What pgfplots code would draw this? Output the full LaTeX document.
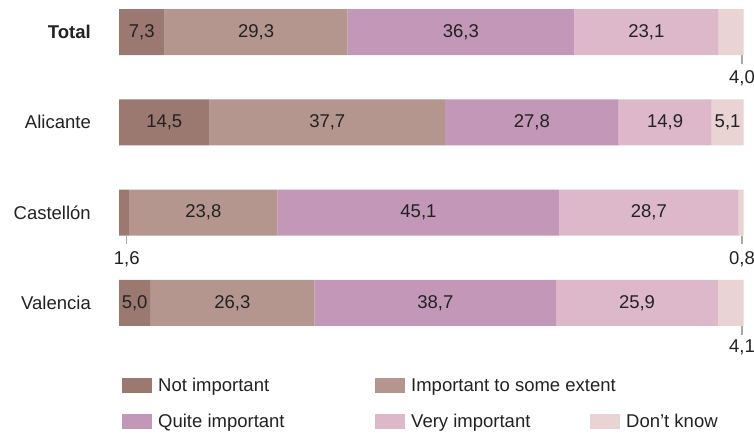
\documentclass[border=0pt]{standalone}
\usepackage{fontspec}
\setmainfont{Liberation Sans}
\usepackage{pgfplots}
\usepackage{pgfplotstable}
\pgfplotsset{compat=1.18}

\definecolor{cNI}{HTML}{9B7870}
\definecolor{cISE}{HTML}{B4968F}
\definecolor{cQI}{HTML}{C297B8}
\definecolor{cVI}{HTML}{DDB8CB}
\definecolor{cDK}{HTML}{E9D3D3}
\definecolor{txt}{HTML}{222222}
\definecolor{tickgray}{HTML}{A8A8A8}

% c: row (0 = Total), v: share in %, lab: label inside the bar
\pgfplotstableread{
c v lab
0 7.3 7,3
1 14.5 14,5
2 1.6 {}
3 5.0 5,0
}\notimp
\pgfplotstableread{
c v lab
0 29.3 29,3
1 37.7 37,7
2 23.8 23,8
3 26.3 26,3
}\someext
\pgfplotstableread{
c v lab
0 36.3 36,3
1 27.8 27,8
2 45.1 45,1
3 38.7 38,7
}\quite
\pgfplotstableread{
c v lab
0 23.1 23,1
1 14.9 14,9
2 28.7 28,7
3 25.9 25,9
}\very
\pgfplotstableread{
c v lab
0 4.0 {}
1 5.1 5,1
2 0.8 {}
3 4.1 {}
}\dontknow

\newcommand{\fs}{\fontsize{18.5bp}{22bp}\selectfont}

\begin{document}
\begin{tikzpicture}[font=\fs, text=txt]
\useasboundingbox (0,0) rectangle (754bp,-438bp);
\begin{axis}[
    at={(119bp,-0.4bp)}, anchor=north west,
    scale only axis,
    width=624.5bp, height=334.1bp,
    xmin=0, xmax=100,
    ymin=-0.35, ymax=3.35,
    y dir=reverse,
    clip=false,
    xbar stacked,
    bar width=46bp,
    axis line style={draw=none},
    tick style={draw=none},
    xtick=\empty,
    ytick={0,1,2,3},
    yticklabels={\textbf{Total},Alicante,Castellón,Valencia},
    yticklabel style={font=\fs, text=txt, anchor=east, inner sep=0pt, xshift=-28bp},
    point meta=explicit symbolic,
    nodes near coords,
    every node near coord/.append style={font=\fs, text=txt, anchor=center},
    legend columns=3,
    legend cell align=left,
    legend image code/.code={\fill[#1] (0bp,-6bp) rectangle (30bp,9bp);},
    legend style={at={(axis description cs:0,0)}, anchor=north west,
        xshift=0bp, yshift=-41.2bp, draw=none, fill=none,
        nodes={inner sep=0pt, text height=14bp, text depth=4bp, font=\fs, text=txt},
        /tikz/every odd column/.append style={column sep=6bp},
        /tikz/row sep=18bp},
]
\addplot[fill=cNI, draw=none] table[x=v, y=c, meta=lab] {\notimp};
\addlegendentry{\makebox[217bp][l]{Not important}}
\addplot[fill=cISE, draw=none] table[x=v, y=c, meta=lab] {\someext};
\addlegendentry{\makebox[179bp][l]{Important to some extent}}
\addlegendimage{empty legend}
\addlegendentry{}
\addplot[fill=cQI, draw=none] table[x=v, y=c, meta=lab] {\quite};
\addlegendentry{\makebox[217bp][l]{Quite important}}
\addplot[fill=cVI, draw=none] table[x=v, y=c, meta=lab] {\very};
\addlegendentry{\makebox[179bp][l]{Very important}}
\addplot[fill=cDK, draw=none] table[x=v, y=c, meta=lab] {\dontknow};
\addlegendentry{Don’t know}

% small shares written below their bars
\draw[tickgray, line width=1.2pt] (axis cs:99.75,0.255) -- (axis cs:99.75,0.35);
\node[anchor=base] at (axis cs:99.75,0.57) {4,0};
\draw[tickgray, line width=1.2pt] (axis cs:1.23,2.255) -- (axis cs:1.23,2.35);
\node[anchor=base] at (axis cs:1.23,2.57) {1,6};
\draw[tickgray, line width=1.2pt] (axis cs:99.75,2.255) -- (axis cs:99.75,2.35);
\node[anchor=base] at (axis cs:99.75,2.57) {0,8};
\draw[tickgray, line width=1.2pt] (axis cs:99.75,3.255) -- (axis cs:99.75,3.35);
\node[anchor=base] at (axis cs:99.75,3.55) {4,1};
\end{axis}
\end{tikzpicture}
\end{document}
